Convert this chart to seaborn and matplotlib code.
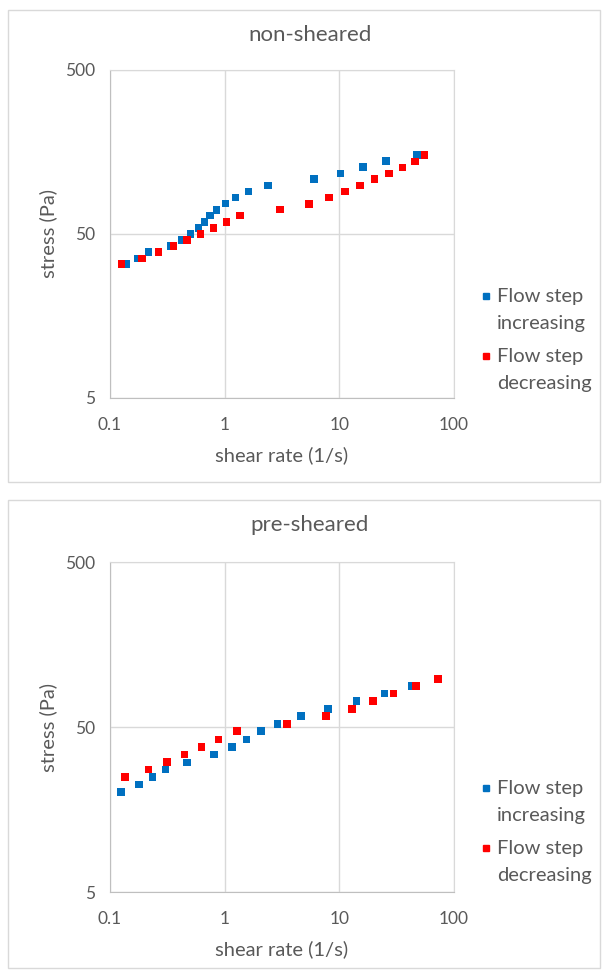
import numpy as np
import pandas as pd
import matplotlib
matplotlib.use("Agg")
import matplotlib.pyplot as plt
import seaborn as sns
from matplotlib.patches import Rectangle
from matplotlib.lines import Line2D

# non-sheared sample
ns_inc_rate = [0.139, 0.175, 0.217, 0.336, 0.424, 0.505, 0.589, 0.669, 0.744, 0.851,
               1.02, 1.24, 1.61, 2.39, 6.03, 10.2, 16.0, 25.6, 47.8]
ns_inc_stress = [32.8, 35.5, 38.8, 42.1, 45.9, 50.0, 54.6, 59.2, 64.7, 70.0,
                 76.9, 83.3, 91.0, 98.6, 107.8, 117, 128, 139, 151.7]
ns_dec_rate = [0.126, 0.190, 0.264, 0.359, 0.472, 0.617, 0.797, 1.035, 1.36, 3.02,
               5.42, 8.15, 11.2, 15.1, 20.3, 27.0, 35.6, 45.9, 55.5]
ns_dec_stress = [32.8, 35.5, 38.8, 42.1, 45.9, 50.0, 54.6, 59.2, 64.7, 70.4,
                 76.5, 83.3, 91.0, 98.6, 108, 117, 127, 138, 151.7]

# pre-sheared sample
ps_inc_rate = [0.124, 0.179, 0.235, 0.305, 0.469, 0.807, 1.16, 1.55, 2.07, 2.88,
               4.64, 7.94, 14.1, 24.8, 42.7]
ps_inc_stress = [20.1, 22.4, 24.9, 27.6, 30.5, 34.0, 37.8, 42.1, 47.1, 52.2,
                 58.1, 64.3, 71.6, 79.6, 88.6]
ps_dec_rate = [0.135, 0.217, 0.316, 0.445, 0.626, 0.887, 1.28, 3.48, 7.62, 12.9,
               19.6, 29.7, 46.9, 72.9]
ps_dec_stress = [24.9, 27.6, 30.6, 34.0, 37.8, 42.1, 47.1, 52.2, 58.1, 64.3,
                 71.6, 79.6, 88.3, 98.1]

series_names = ["Flow step\nincreasing", "Flow step\ndecreasing"]
colors = ["#0070C0", "#FF0000"]
x_ticks = [0.1, 1, 10, 100]
x_ticklabels = ["0.1", "1", "10", "100"]
y_ticks = [5, 50, 500]
y_ticklabels = ["5", "50", "500"]
panel_titles = ["non-sheared", "pre-sheared"]

sns.set_style("white")
plt.rcParams["font.family"] = ["Lato", "DejaVu Sans"]

W, H = 603, 972
fig = plt.figure(figsize=(W / 100, H / 100), dpi=100)
grey_txt = "#595959"


def make_df(inc_x, inc_y, dec_x, dec_y):
    return pd.DataFrame({
        "rate": inc_x + dec_x,
        "stress": inc_y + dec_y,
        "series": [series_names[0]] * len(inc_x) + [series_names[1]] * len(dec_x),
    })


panels = [
    (make_df(ns_inc_rate, ns_inc_stress, ns_dec_rate, ns_dec_stress), 10, 482, 70, 398),
    (make_df(ps_inc_rate, ps_inc_stress, ps_dec_rate, ps_dec_stress), 500, 968, 562, 892),
]

for i, (df, box_top, box_bot, ax_top, ax_bot) in enumerate(panels):
    # chart frame
    fig.add_artist(Rectangle((8 / W, 1 - box_bot / H), 592 / W, (box_bot - box_top) / H,
                             transform=fig.transFigure, fill=False,
                             edgecolor="#d9d9d9", lw=1))
    ax = fig.add_axes([110 / W, 1 - ax_bot / H, 344 / W, (ax_bot - ax_top) / H])
    sns.scatterplot(data=df, x="rate", y="stress", hue="series", palette=colors,
                    marker="s", s=30, edgecolor="none", ax=ax, legend=False)
    ax.set_xscale("log")
    ax.set_yscale("log")
    ax.set_xlim(0.1, 100)
    ax.set_ylim(5, 500)
    ax.set_xticks(x_ticks)
    ax.set_xticklabels(x_ticklabels)
    ax.set_yticks(y_ticks)
    ax.set_yticklabels(y_ticklabels)
    ax.minorticks_off()
    ax.grid(True, color="#d9d9d9", lw=1)
    ax.set_axisbelow(True)
    for s in ["top", "right"]:
        ax.spines[s].set_color("#d9d9d9")
    for s in ["left", "bottom"]:
        ax.spines[s].set_color("#bfbfbf")
    ax.tick_params(axis="both", which="major", direction="out", length=5, width=1,
                   color="#bfbfbf", labelsize=12.5, labelcolor=grey_txt, pad=6)
    ax.tick_params(axis="x", pad=9)
    ax.set_xlabel("")
    ax.set_ylabel("")

    fig.text(310 / W, 1 - (box_top + 25) / H, panel_titles[i], ha="center", va="center",
             fontsize=16, color=grey_txt)
    fig.text(282 / W, 1 - (ax_bot + 57) / H, "shear rate (1/s)", ha="center",
             va="center", fontsize=14.5, color=grey_txt)
    fig.text(48 / W, 1 - (ax_top + ax_bot) / 2 / H, "stress (Pa)", ha="center",
             va="center", rotation=90, fontsize=14.5, color=grey_txt)

    # legend, Excel style: marker next to the first line of each label
    for j, (name, c) in enumerate(zip(series_names, colors)):
        y_first = ax_top + 226 + 60 * j
        fig.add_artist(Line2D([486 / W], [1 - y_first / H], marker="s", ms=4.5,
                              color=c, lw=0, transform=fig.transFigure))
        fig.text(497 / W, 1 - (y_first + 14) / H, name, ha="left", va="center",
                 fontsize=14.5, color=grey_txt, linespacing=1.7)

fig.savefig("out.png", dpi=100)
